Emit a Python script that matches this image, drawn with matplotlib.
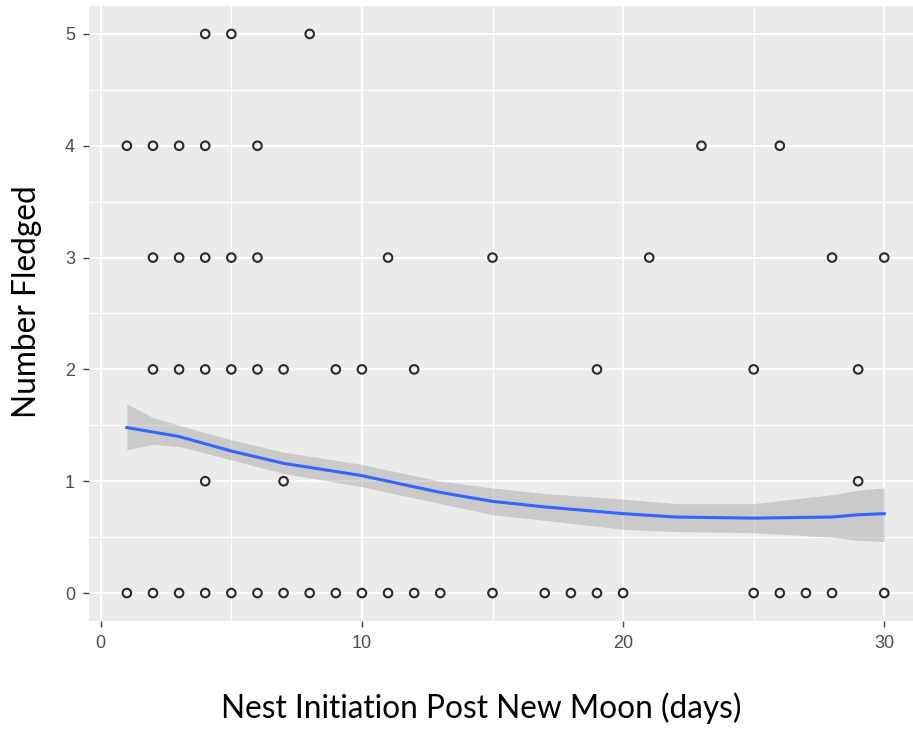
import matplotlib
matplotlib.use("Agg")
import matplotlib.pyplot as plt
from matplotlib.ticker import MultipleLocator

# Scatter data: (days post new moon, number fledged)
y5_x = [4, 5, 8]
y4_x = [1, 2, 3, 4, 6, 23, 26]
y3_x = [2, 3, 4, 5, 6, 11, 15, 21, 28, 30]
y2_x = [2, 3, 4, 5, 6, 7, 9, 10, 12, 19, 25, 29]
y1_x = [4, 7, 29]
y0_x = [1, 2, 3, 4, 5, 6, 7, 8, 9, 10, 11, 12, 13, 15, 17, 18, 19, 20, 25, 26, 27, 28, 30]

# Smoother (loess)
smooth_x = [1, 2, 3, 5, 7, 10, 13, 15, 17, 20, 22, 25, 28, 29, 30]
smooth_fit = [1.48, 1.44, 1.40, 1.27, 1.16, 1.05, 0.90, 0.82, 0.77, 0.71, 0.68, 0.67, 0.68, 0.70, 0.71]
smooth_lo = [1.28, 1.33, 1.31, 1.19, 1.07, 0.95, 0.80, 0.70, 0.65, 0.57, 0.55, 0.54, 0.50, 0.47, 0.46]
smooth_hi = [1.69, 1.57, 1.50, 1.37, 1.26, 1.15, 1.00, 0.94, 0.89, 0.84, 0.80, 0.80, 0.88, 0.92, 0.94]

x_ticks = [0, 10, 20, 30]
y_ticks = [0, 1, 2, 3, 4, 5]
x_label = "Nest Initiation Post New Moon (days)"
y_label = "Number Fledged"

xs, ys = [], []
for val, arr in [(5, y5_x), (4, y4_x), (3, y3_x), (2, y2_x), (1, y1_x), (0, y0_x)]:
    xs += arr
    ys += [val] * len(arr)

fig = plt.figure(figsize=(9.13, 7.29), dpi=100)
ax = fig.add_axes([89 / 913, (729 - 621) / 729, (913 - 89) / 913, (621 - 6) / 729])
ax.set_facecolor("#EBEBEB")
for s in ax.spines.values():
    s.set_visible(False)

ax.set_xlim(-0.45, 31.1)
ax.set_ylim(-0.25, 5.25)
ax.set_xticks(x_ticks)
ax.set_yticks(y_ticks)
ax.xaxis.set_minor_locator(MultipleLocator(5))
ax.yaxis.set_minor_locator(MultipleLocator(0.5))
ax.grid(which="major", color="white", linewidth=1.4)
ax.grid(which="minor", color="white", linewidth=0.9)
ax.set_axisbelow(True)
ax.tick_params(which="minor", length=0)
ax.tick_params(which="major", length=4, width=1.0, color="#444444",
               labelcolor="#4D4D4D", labelsize=13, pad=6)
for lab in ax.get_xticklabels() + ax.get_yticklabels():
    lab.set_family("Liberation Sans")

ax.scatter(xs, ys, s=38, facecolors="none", edgecolors="#2b2b2b", linewidths=1.5, zorder=3)
ax.fill_between(smooth_x, smooth_lo, smooth_hi, color="#999999", alpha=0.4, linewidth=0, zorder=2)
ax.plot(smooth_x, smooth_fit, color="#3366FF", linewidth=2.2, zorder=2.5)

ax.set_xlabel(x_label, fontsize=22.8, family="Lato", color="black")
ax.set_ylabel(y_label, fontsize=22.8, family="Lato", color="black")
ax.xaxis.label.set_va("center")
ax.yaxis.label.set_va("center")
ax.xaxis.set_label_coords((481 - 89) / 824, (621 - 708) / 615)
ax.yaxis.set_label_coords((27 - 89) / 824, (621 - 302) / 615)

fig.savefig("out.png", dpi=100)
